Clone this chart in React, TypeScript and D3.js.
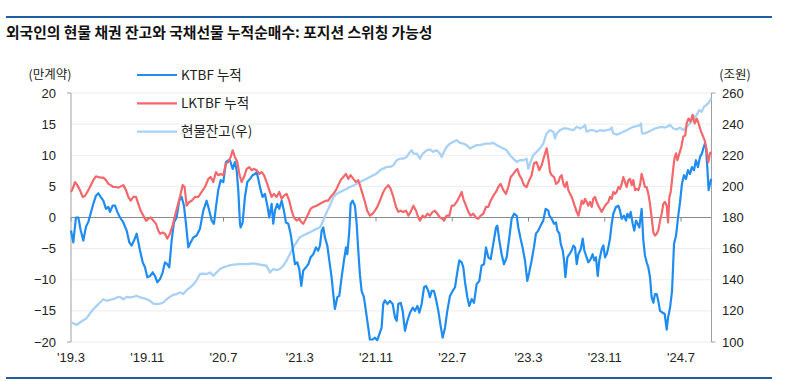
import React from "react";
import * as d3 from "d3";

// x positions: months since March 2019 ('19.3 = 0)
const ktbfMonths = [0,0.24,0.52,0.77,1.01,1.29,1.57,1.82,2.06,2.34,2.62,2.87,3.11,3.39,3.67,3.92,4.09,4.37,4.62,4.86,5.14,5.49,5.84,6.12,6.36,6.61,6.89,7.24,7.52,7.76,8.01,8.29,8.57,8.81,9.06,9.34,9.62,9.86,10.1,10.31,10.56,10.8,11.08,11.36,11.61,11.85,12.06,12.31,12.55,12.83,13.18,13.53,13.88,14.23,14.51,14.76,15.0,15.21,15.45,15.7,15.98,16.26,16.5,
16.68,16.96,17.2,17.38,17.55,17.73,17.8,18.01,18.25,18.5,18.78,19.06,19.3,19.48,19.65,19.9,20.1,20.35,20.6,20.8,21.05,21.22,21.4,21.64,21.85,22.1,22.34,22.55,22.8,23.04,23.25,23.5,23.74,23.95,24.16,24.37,24.65,24.9,25.14,25.42,25.7,25.94,26.12,26.3,26.47,26.64,26.89,27.1,27.34,27.52,27.69,27.94,28.15,28.39,28.64,28.85,28.99,29.2,29.34,29.55,29.79,29.97,30.14,30.31,30.49,30.73,30.94,31.19,31.36,31.64,31.89,32.13,32.34,32.59,32.76,32.94,
33.19,33.47,33.75,34.0,34.17,34.34,34.59,34.8,35.04,35.29,35.57,35.85,36.09,36.34,36.55,36.79,37.04,37.25,37.49,37.66,37.84,38.08,38.29,38.54,38.78,38.99,39.24,39.48,39.76,40.04,40.29,40.53,40.74,40.99,41.16,41.34,41.58,41.79,42.04,42.28,42.56,42.84,43.08,43.33,43.54,43.78,44.03,44.31,44.59,44.73,44.94,45.18,45.43,45.71,45.99,46.23,46.48,46.76,46.93,47.17,47.38,47.63,47.87,48.08,48.33,48.57,48.78,49.03,49.27,49.55,49.8,50.08,
50.19,50.43,50.68,50.89,51.03,51.24,51.38,51.59,51.73,51.87,52.08,52.29,52.53,52.71,52.88,53.06,53.23,53.48,53.69,53.86,54.1,54.28,54.52,54.73,54.91,55.08,55.26,55.43,55.68,55.85,56.03,56.2,56.38,56.55,56.73,56.9,57.18,57.43,57.6,57.78,58.02,58.23,58.37,58.58,58.72,58.93,59.1,59.28,59.45,59.63,59.87,60.05,60.22,60.4,60.57,60.75,60.92,61.1,61.27,61.45,61.62,61.8,62.08,62.29,62.5,62.64,62.85,63.06,63.27,63.48,63.69,63.9,64.1,64.31,64.52,64.73,64.94,65.15,65.36,65.57,65.78,65.99,66.2,66.34,66.52,66.62,66.76,66.9,67.04,67.18];
const ktbfValues = [-2.1,-4,0,0,-2,-3.7,-1.5,-0.7,0.6,2.2,3.5,3.9,3.3,2.7,1.4,1.7,0.9,1.9,1.9,0.9,0,-0.8,-2.1,-4,-4.5,-3.7,-2.6,-5.3,-7.2,-8,-9.6,-9.4,-8.8,-9.4,-10.4,-9.9,-8.8,-7.2,-7.5,-8,-3.7,-0.8,0,2.7,3.3,1.9,-1,-4.8,-4,-3.2,-2.9,-1.8,1.1,2.7,1.1,-0.5,-1,1.7,4.4,6,5.7,8.9,9.2,
9.2,7.8,8.9,7.6,4.4,-1,-1.6,-0.8,3.3,5.7,6.2,6.8,7,7.3,6.2,4.4,3.3,3.8,1.9,0,2.2,-1,1.1,2.2,1.4,2.7,1.1,-0.8,-1,-2.6,-4.8,-7.5,-7.2,-8.3,-11,-8.5,-8,-7.5,-6.4,-5.9,-4.8,-5.3,-4.5,-2.1,-1.6,-3.2,-4.5,-6.9,-9.6,-12.3,-14.7,-12.8,-12.6,-9.6,-6.9,-4.8,-5.9,-2.1,2.2,2.7,1.9,-1,-5.3,-9.1,-11.8,-12.8,-15,-17.7,-19.6,-19.6,-19.3,-19.7,-18.8,-17.7,-13.9,-13.3,
-13.9,-13.4,-13.9,-16.1,-16.6,-13.9,-13.7,-15,-18.2,-16.6,-15.3,-14.5,-15,-14.2,-15.3,-13.9,-11.2,-11,-11.8,-12.8,-11.8,-11.8,-13.1,-15,-17.4,-19.3,-17.7,-15,-12.6,-11.8,-11.2,-8.8,-6.9,-7.2,-8,-10.4,-12.8,-14.2,-13.1,-13.7,-10.7,-10.2,-7.7,-7.5,-4.8,-6.4,-6.7,-4.2,-1.6,-1.3,-3.7,-5.9,-7.5,-6.4,-3.2,-0.2,0.6,0.3,-1.6,-3.4,-4.8,-6.9,-10.2,-8.8,-6.9,-4.8,-2.6,-2.1,-1.3,-0.5,1.4,1.1,
0.3,-0.2,-1,-0.8,-2.1,-2.6,-4.2,-5.3,-6.9,-9.6,-6.4,-5.9,-5.3,-4.5,-4.8,-7.5,-5.9,-5.1,-3.4,-5.3,-6.4,-7.2,-6.7,-5.9,-6.9,-6.4,-9.4,-6.9,-5.1,-4.5,-6.4,-5.9,-4.8,-3.4,-1,0.6,1.7,1.9,1.1,-0.2,0.3,-0.5,0.6,0,0.9,-1,-2.1,-0.5,-1,-1.6,1.4,-3.7,-6.1,-7.2,-8,-9.6,-12.8,-13.7,-12.3,-12.3,-13.4,-15,-15.3,-15.5,-18,-16.1,-14.5,-11.8,-4.2,-2.9,0,2.5,5.4,6.8,6.2,7.6,7,8.1,7.6,9.2,8.1,9.7,10.3,11.1,11.9,11.3,8.1,4.4,5.4,6.2];

const lktbfMonths = [0,0.17,0.42,0.66,0.94,1.22,1.47,1.71,1.99,2.34,2.62,2.87,3.11,3.39,3.67,3.92,4.16,4.44,4.72,4.97,5.21,5.49,5.77,6.01,6.26,6.54,6.82,7.06,7.31,7.59,7.87,8.11,8.36,8.64,8.92,9.16,9.34,9.62,9.86,10.1,10.38,10.66,10.91,11.15,11.43,11.71,11.92,12.13,12.41,12.66,13.01,13.36,13.71,14.06,14.41,14.65,14.93,15.21,15.45,15.7,15.98,16.26,16.5,
16.75,16.96,17.2,17.45,17.66,17.9,18.15,18.43,18.71,18.95,19.2,19.48,19.76,20.0,20.25,20.52,20.8,21.05,21.29,21.57,21.85,22.1,22.34,22.62,22.9,23.15,23.39,23.67,23.95,24.2,24.37,24.65,24.9,25.14,25.42,25.77,26.12,26.47,26.75,26.99,27.24,27.52,27.8,28.04,28.29,28.57,28.85,29.09,29.34,29.62,29.9,30.14,30.31,30.59,30.84,31.08,31.36,31.64,31.89,32.13,32.41,32.69,32.94,33.29,
33.54,33.82,34.1,34.34,34.59,34.87,35.15,35.39,35.64,35.92,36.2,36.44,36.62,36.9,37.14,37.39,37.66,37.94,38.19,38.43,38.71,38.99,39.13,39.41,39.69,39.94,40.18,40.46,40.74,40.99,41.16,41.44,41.69,41.93,42.21,42.49,42.73,42.98,43.26,43.54,43.78,44.03,44.31,44.59,44.83,45.08,45.36,45.64,45.88,46.13,46.41,46.69,46.83,47.04,47.28,47.52,47.8,48.08,48.33,48.57,48.85,49.13,49.38,49.62,49.91,50.08,
50.26,50.43,50.68,50.89,51.13,51.31,51.48,51.66,51.83,52.01,52.18,52.36,52.53,52.71,52.88,53.06,53.23,53.41,53.58,53.76,53.93,54.1,54.28,54.45,54.63,54.8,54.98,55.15,55.33,55.5,55.68,55.85,56.03,56.2,56.38,56.55,56.73,56.9,57.08,57.25,57.43,57.6,57.78,57.95,58.13,58.3,58.48,58.65,58.83,59.0,59.18,59.35,59.53,59.7,59.87,60.05,60.22,60.4,60.57,60.75,60.92,61.1,61.27,61.45,61.62,61.8,61.97,62.15,62.32,62.5,62.64,62.78,62.92,63.06,63.2,63.34,63.48,63.62,63.83,64.03,64.24,64.45,64.59,64.8,65.01,65.22,65.43,65.64,65.85,66.06,66.27,66.48,66.69,66.87,67.04,67.18];
const lktbfValues = [4.1,4.6,5.7,5.2,4.4,3.3,3.5,4.1,4.9,6,6.6,6.5,6.4,6.4,6,5.4,5.2,4.9,4.9,4.8,5,5.2,4.4,3.3,2.7,3.3,3.3,2.2,1.1,0.3,-0.5,-0.2,0,-0.5,-1,-2.1,-2.6,-2.4,-2.6,-3.4,-2.6,-1.3,0.3,1.7,3.3,5.2,4.9,1.9,2.5,2.7,3.3,3.3,4.1,4.9,6.2,6.5,5.7,7.3,6.8,7,6.8,8.7,8.9,
9.7,10.8,9.7,8.9,7,5.7,6.5,7.8,8.1,7.6,7.8,7.6,7,7.3,6.8,5.7,4.4,3.3,3.8,3.3,4.1,3,3.5,3.8,2.7,1.1,0,-0.5,-0.2,-0.8,-1,-0.2,0.6,1.4,1.7,1.9,2.2,2.5,2.7,2.7,3.3,3.8,4.4,5.2,6,6.5,7,6.2,6.8,6.2,5.7,6,5.2,3.8,2.5,1.1,0.3,0.6,1.1,1.7,2.7,3.8,4.6,5.2,
4.6,3.3,1.7,0.9,1.1,0.9,1.1,0.3,0.9,1.9,1.1,0,-0.5,0.3,0,0.6,0.3,0.9,1.1,0.6,0,-0.2,-0.5,0.3,0.3,1.9,1.9,2.5,3.3,4.1,3,1.9,0.9,0.3,0.6,0,-0.2,0.3,0.6,1.7,1.7,2.7,3.5,4.1,4.9,5.4,4.4,3.8,4.9,6.5,7,7.6,7.8,6.8,6.2,5.2,4.9,6,6.8,8.7,8.9,7.6,8.4,9.7,11.1,9.5,
7.3,6.8,6.5,5.4,5.7,6.5,6.8,5.4,4.9,5.7,4.4,3.8,3.3,2.5,1.7,0.9,0.3,1.4,2.7,2.2,3,2.5,1.9,2.5,1.7,3,3.3,2.5,1.9,1.4,0.9,1.4,1.9,2.2,2.5,3.3,3,4.1,3.8,4.1,4.9,4.6,5.4,6.5,5.7,4.9,6,6.2,5.2,6,4.4,4.6,4.4,5.2,7,6,4.9,4.9,3.8,2.2,0,-2.4,-2.9,-2.6,-2.1,-0.5,0.6,2.2,2.5,1.9,-0.8,3.3,4.1,6,8.1,9.7,10.3,9.2,10.3,11.3,13,13.2,15.1,15.9,15.4,16.5,15.1,15.9,15.1,14,13.2,12.4,10.8,8.9,10.3,10.5];

const cashMonths = [0,0.24,0.59,0.94,1.29,1.64,1.99,2.34,2.69,3.04,3.39,3.74,4.09,4.44,4.79,5.14,5.49,5.84,6.19,6.54,6.89,7.24,7.59,7.94,8.29,8.64,8.99,9.34,9.69,10.03,10.38,10.73,11.08,11.43,11.78,12.13,12.48,12.83,13.18,13.53,13.88,14.23,14.58,14.93,15.28,15.63,15.98,16.5,
17.03,17.73,18.43,19.13,19.83,20.52,20.87,21.22,21.57,21.92,22.27,22.62,22.97,23.32,23.67,24.02,24.37,24.72,25.07,25.42,25.77,26.12,26.47,26.82,27.17,27.52,27.87,28.22,28.57,28.92,29.27,29.62,29.97,30.31,30.66,31.01,31.36,31.71,32.06,32.41,32.76,33.11,
33.47,33.82,34.17,34.52,34.87,35.22,35.57,35.74,35.92,36.27,36.62,36.9,37.32,37.66,38.01,38.36,38.71,38.89,39.13,39.41,39.76,40.11,40.46,40.81,41.16,41.51,41.86,42.21,42.56,42.91,43.26,43.61,43.96,44.31,44.66,45.01,45.36,45.71,46.06,46.41,46.76,47.1,47.45,47.8,47.98,48.15,48.5,48.85,49.2,49.55,49.9,
50.26,50.61,50.78,50.96,51.31,51.66,52.01,52.36,52.71,53.06,53.41,53.76,53.93,54.1,54.45,54.8,55.15,55.5,55.85,56.2,56.55,56.73,56.9,57.25,57.6,57.95,58.3,58.65,59.0,59.35,59.7,59.8,59.91,60.22,60.57,60.92,61.27,61.62,61.97,62.32,62.67,62.85,63.2,63.55,63.9,64.24,64.59,64.94,65.29,65.64,65.92,66.17,66.41,66.69,66.97,67.18];
const cashValues = [112.5,112,111,112.5,114,115.3,118.3,121,123.2,125.4,127.5,126.5,127,127.5,128.6,129,127.5,129,128.6,129,129.7,128.6,128.2,127.5,126.5,124.7,124.3,124.7,125.4,127.5,129,130.3,130.8,131.8,130.8,133.3,135,136.8,139.8,143.7,144,143.7,144.7,142.6,144.7,146.9,148,149,
149.7,150,150,150.5,149.7,149,144.7,146.9,146.2,146.9,149,152.3,156.6,160.9,164.1,167.3,168.4,169.5,170.5,171.6,172.7,173.8,178,183.4,187.7,193.1,195.3,196.3,197.4,198.5,199.6,200.6,201.7,202.8,203.9,204.9,206,207.1,208.2,210.3,211.4,212.5,
212.5,213.5,216.8,217.8,217.8,218.9,222.2,223.2,221.1,221.1,217.8,221.1,223.2,223.7,222.2,223.2,221.1,218.9,222.2,225.4,227.5,228.6,229.7,228,227.5,226.5,224.3,225.4,226.5,226.5,227.1,227.5,227.5,228,226.5,225.4,224.3,223.2,220,217.8,215.7,216.8,216.8,217.8,211.4,214.6,220,222.2,224.3,227.5,234,
236.1,235.1,230.8,234,236.1,237.2,237.2,236.6,236.1,238.3,237.2,238.3,239.4,235.1,236.1,236.1,235.1,236.1,235.7,236.1,236.6,237.8,234,233.3,234,235.1,236.1,237.2,238.3,238.7,239.4,240.4,234,234,235.1,236.1,237.2,237.8,238.3,237.8,238.7,239.4,237.2,236.6,237.8,236.1,238.3,240.4,243.7,245.8,249,248,251.2,252.3,254.4,256.6];

const xTickMonths = [0, 8, 16, 24, 32, 40, 48, 56, 64];
const xTickLabels = ["'19.3", "'19.11", "'20.7", "'21.3", "'21.11", "'22.7", "'23.3", "'23.11", "'24.7"];
const leftTicks = [20, 15, 10, 5, 0, -5, -10, -15, -20];
const rightTicks = [260, 240, 220, 200, 180, 160, 140, 120, 100];

const seriesNames = ["KTBF 누적", "LKTBF 누적", "현물잔고(우)"];
const seriesColors = ["#1e8cf2", "#f4676b", "#a9d1f7"];

const title = "외국인의 현물 채권 잔고와 국채선물 누적순매수: 포지션 스위칭 가능성";

export default function App() {
  const W = 797, H = 381;
  const L = 71, R = 711.5, T = 93, B = 342;
  const x = d3.scaleLinear().domain([0, 67.2]).range([L, R]);
  const yL = d3.scaleLinear().domain([-20, 20]).range([B, T]);
  const yR = d3.scaleLinear().domain([100, 260]).range([B, T]);

  const mk = (ms: number[], vs: number[], ys: d3.ScaleLinear<number, number>) =>
    d3.line<number>().x((_, i) => x(ms[i])).y((v) => ys(v))(vs) || "";

  const ktbfPath = mk(ktbfMonths, ktbfValues, yL);
  const lktbfPath = mk(lktbfMonths, lktbfValues, yL);
  const cashPath = mk(cashMonths, cashValues, yR);

  const num = "'Liberation Sans', Arial, sans-serif";
  const kr = "'Noto Sans CJK KR', 'Noto Sans', sans-serif";
  const fmt = (v: number) => (v < 0 ? "\u2212" + Math.abs(v) : String(v));
  const y0 = yL(0);

  return (
    <svg width={W} height={H} style={{ position: "absolute", left: 0, top: 0, background: "#fff" }}>
      <line x1={6} x2={772} y1={17} y2={17} stroke="#1f5f9f" strokeWidth={2} />
      <line x1={6} x2={772} y1={378} y2={378} stroke="#1f5f9f" strokeWidth={2} />
      <text x={6} y={37.5} fontFamily={kr} fontSize={14.8} fontWeight={600} fill="#111">{title}</text>

      {leftTicks.map((t) => (
        <line key={"g" + t} x1={L} x2={R} y1={yL(t)} y2={yL(t)} stroke="#ededed" strokeWidth={1} />
      ))}

      {/* zero line with x ticks */}
      <line x1={L} x2={R} y1={y0} y2={y0} stroke="#8a8a8a" strokeWidth={1} />
      {xTickMonths.map((m) => (
        <line key={"xt" + m} x1={x(m)} x2={x(m)} y1={y0} y2={y0 + 4} stroke="#8a8a8a" strokeWidth={1} />
      ))}

      {/* axes */}
      <path d={`M${L - 4},${T}H${L}V${B}H${L - 4}`} fill="none" stroke="#a0a0a0" strokeWidth={1} />
      <path d={`M${R + 4},${T}H${R}V${B}H${R + 4}`} fill="none" stroke="#a0a0a0" strokeWidth={1} />

      {leftTicks.map((t) => (
        <text key={"lt" + t} x={56} y={yL(t)} dy="0.35em" textAnchor="end" fontFamily={num} fontSize={13} fill="#222">{fmt(t)}</text>
      ))}
      {rightTicks.map((t) => (
        <text key={"rt" + t} x={722} y={yR(t)} dy="0.35em" textAnchor="start" fontFamily={num} fontSize={13} fill="#222">{t}</text>
      ))}
      {xTickMonths.map((m, i) => (
        <text key={"xl" + m} x={x(m)} y={362} textAnchor="middle" fontFamily={num} fontSize={13} fill="#222">{xTickLabels[i]}</text>
      ))}

      <text x={50} y={79} textAnchor="middle" fontFamily={kr} fontSize={12.5} fill="#222">(만계약)</text>
      <text x={735} y={79} textAnchor="middle" fontFamily={kr} fontSize={12.5} fill="#222">(조원)</text>

      <path d={cashPath} fill="none" stroke={seriesColors[2]} strokeWidth={2.3} strokeLinejoin="round" />
      <path d={ktbfPath} fill="none" stroke={seriesColors[0]} strokeWidth={2.2} strokeLinejoin="round" />
      <path d={lktbfPath} fill="none" stroke={seriesColors[1]} strokeWidth={2.2} strokeLinejoin="round" />

      {seriesNames.map((n, i) => (
        <g key={n}>
          <line x1={137} x2={177} y1={75 + i * 28.3} y2={75 + i * 28.3} stroke={seriesColors[i]} strokeWidth={2.2} />
          <text x={181} y={75 + i * 28.3} dy="0.35em" fontFamily={kr} fontSize={13.5} fill="#222">{n}</text>
        </g>
      ))}
    </svg>
  );
}
